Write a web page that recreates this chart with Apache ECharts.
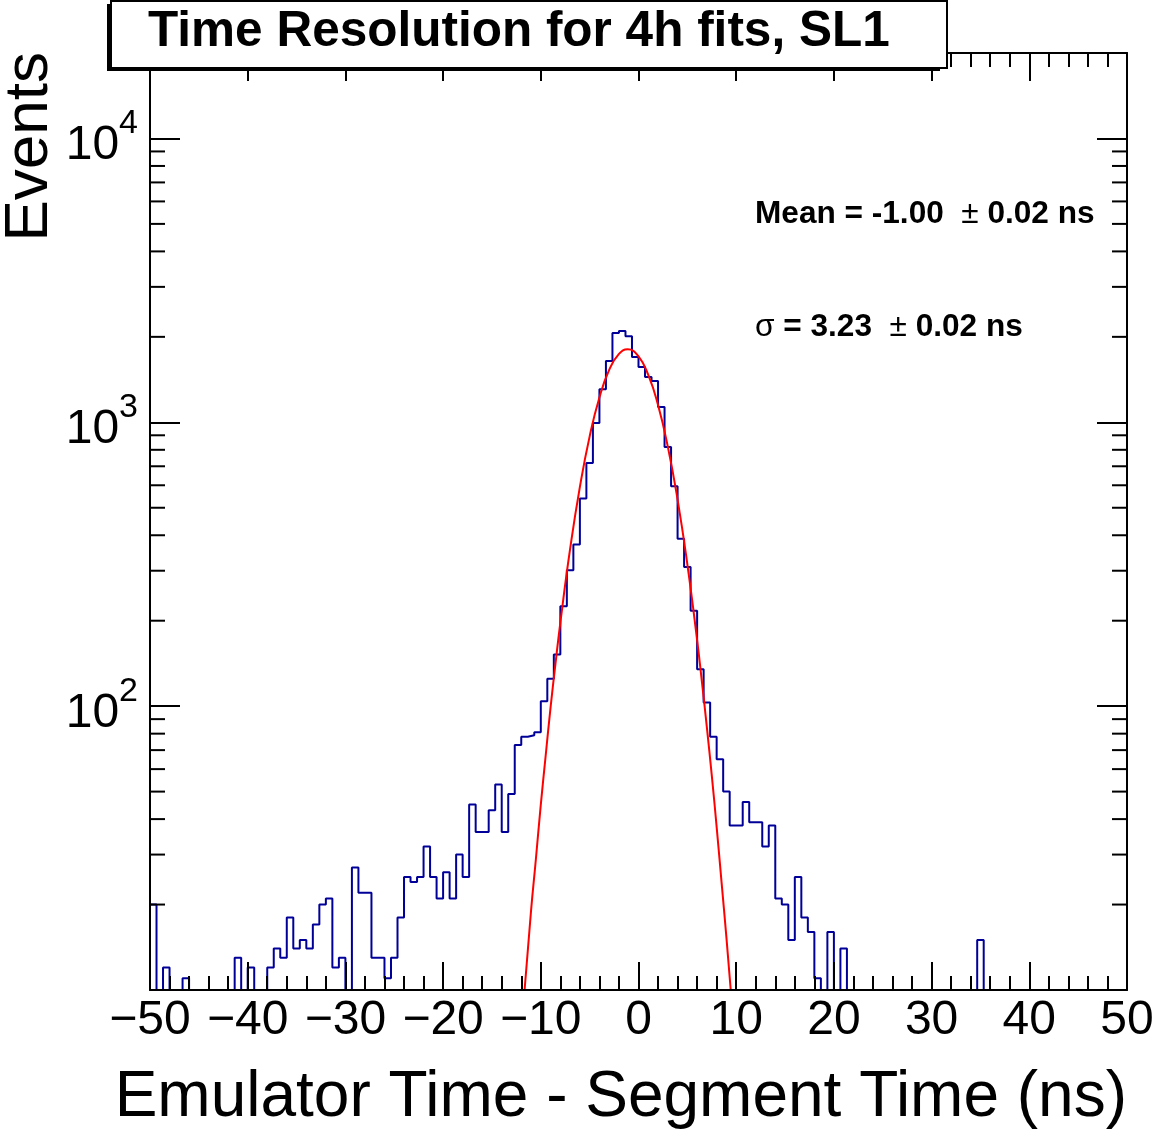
<!DOCTYPE html>
<html>
<head>
<meta charset="utf-8">
<title>Time Resolution for 4h fits, SL1</title>
<script src="https://cdn.jsdelivr.net/npm/echarts@6/dist/echarts.min.js"></script>
<style>
    html, body { margin: 0; padding: 0; background: #fff; }
    #chart { width: 1162px; height: 1140px; }
</style>
</head>
<body>
<div id="chart"></div>
<script>
// 150 bins of 2/3 ns between -50 and 50, counts (0 = under the 10 floor)
var xMin = -50, xMax = 50, xStep = 10;
var yMin = 10, yMax = 20000;
var binCounts = [
    20, 0, 12, 0, 0, 11, 0, 0, 0, 0,
    0, 0, 0, 13, 0, 12, 0, 0, 12, 14,
    13, 18, 14, 15, 14, 17, 20, 21, 12, 13,
    0, 27, 22, 22, 13, 13, 11, 13, 18, 25,
    24, 25, 32, 25, 21, 26, 21, 30, 25, 45,
    36, 36, 43, 53, 36, 49, 73, 78, 79, 81,
    104, 125, 152, 225, 301, 371, 539, 719, 994, 1307,
    1644, 2063, 2097, 2008, 1698, 1565, 1444, 1398, 1132, 819,
    595, 389, 309, 217, 135, 103, 78, 65, 50, 38,
    38, 46, 39, 39, 32, 38, 21, 20, 15, 25,
    18, 16, 11, 0, 16, 0, 14, 0, 0, 0,
    0, 0, 0, 0, 0, 0, 0, 0, 0, 0,
    0, 0, 0, 0, 0, 0, 0, 15, 0, 0,
    0, 0, 0, 0, 0, 0, 0, 0, 0, 0,
    0, 0, 0, 0, 0, 0, 0, 0, 0, 0
];
// gaussian fit curve
var fitX = [-11.66, -11.0, -10.5, -10.0, -9.5, -9.0, -8.5, -8.0, -7.0, -6.0,
    -5.0, -4.0, -3.0, -2.0, -1.11, 0.0, 1.0, 2.0, 3.0, 4.0,
    5.0, 6.0, 6.5, 7.0, 7.5, 8.0, 8.5, 9.0, 9.44];
var fitY = [10, 19, 29, 45, 67, 99, 141, 197, 358, 592,
    892, 1223, 1529, 1741, 1807, 1706, 1468, 1150, 821, 534,
    316, 171, 121, 84, 57, 37.5, 24, 15.3, 10];
var titleText = 'Time Resolution for 4h fits, SL1';
var xTitle = 'Emulator Time - Segment Time (ns)';
var yTitle = 'Events';

var FONT = '"Liberation Sans", Arial, Helvetica, sans-serif';

var binWidth = (xMax - xMin) / binCounts.length;
var histPoints = binCounts.map(function (c, i) {
    return [xMin + i * binWidth, Math.max(c, yMin)];
});
histPoints.push([xMax, Math.max(binCounts[binCounts.length - 1], yMin)]);

var fitPoints = fitX.map(function (x, i) { return [x, fitY[i]]; });

// minor ticks of the log axis: 2..9 x 10^n
var minorY = [];
for (var p = yMin; p < yMax; p *= 10) {
    for (var k = 2; k <= 9; k++) {
        if (k * p < yMax) minorY.push([xMin, k * p]);
    }
}

var black = '#000';
function tickStyle(len) {
    return { show: true, inside: true, length: len, lineStyle: { color: black, width: 2 } };
}

var myChart = echarts.init(document.getElementById('chart'), null, { renderer: 'canvas' });
var option = {
    animation: false,
    backgroundColor: '#fff',
    grid: { left: 150, right: 35, top: 53, bottom: 150, containLabel: false, outerBoundsMode: 'none' },
    xAxis: [{
        type: 'value', min: xMin, max: xMax, interval: xStep, position: 'bottom', z: 5,
        axisLine: { show: true, onZero: false, lineStyle: { color: black, width: 2 } },
        axisTick: tickStyle(28),
        minorTick: { show: true, splitNumber: 5, length: 14, lineStyle: { color: black, width: 2 } },
        splitLine: { show: false },
        axisLabel: {
            show: true, margin: 7, color: black, fontSize: 48, fontFamily: FONT,
            formatter: function (v) { return String(v).replace('-', '\u2212'); }
        }
    }, {
        type: 'value', min: xMin, max: xMax, interval: xStep, position: 'top', z: 5,
        axisLine: { show: true, onZero: false, lineStyle: { color: black, width: 2 } },
        axisTick: tickStyle(28),
        minorTick: { show: true, splitNumber: 5, length: 14, lineStyle: { color: black, width: 2 } },
        splitLine: { show: false },
        axisLabel: { show: false }
    }],
    yAxis: [{
        type: 'log', logBase: 10, min: yMin, max: yMax, position: 'left', z: 5,
        axisLine: { show: true, onZero: false, lineStyle: { color: black, width: 2 } },
        axisTick: tickStyle(30),
        splitLine: { show: false },
        axisLabel: {
            show: true, margin: 12,
            formatter: function (v) {
                var e = Math.round(Math.log(v) / Math.LN10);
                if (Math.abs(Math.pow(10, e) - v) > 1e-6 || e < 2) return '';
                return '{b|10}{s|' + e + '}';
            },
            rich: {
                b: { fontSize: 48, fontFamily: FONT, color: black, verticalAlign: 'bottom' },
                s: { fontSize: 34, fontFamily: FONT, color: black, verticalAlign: 'bottom', padding: [0, 0, 29, 0] }
            }
        }
    }, {
        type: 'log', logBase: 10, min: yMin, max: yMax, position: 'right', z: 5,
        axisLine: { show: true, onZero: false, lineStyle: { color: black, width: 2 } },
        axisTick: tickStyle(30),
        splitLine: { show: false },
        axisLabel: { show: false }
    }],
    series: [{
        name: 'hist', type: 'line', step: 'end', data: histPoints,
        symbol: 'none', clip: true, z: 2,
        lineStyle: { color: '#000099', width: 2 }
    }, {
        name: 'fit', type: 'line', data: fitPoints, smooth: 0.5,
        symbol: 'none', clip: true, z: 3,
        lineStyle: { color: '#ff0000', width: 2 }
    }, {
        name: 'minor', type: 'custom', data: minorY, silent: true, z: 6,
        encode: { x: 0, y: 1 },
        renderItem: function (params, api) {
            var v = api.value(1);
            var l = api.coord([xMin, v]);
            var r = api.coord([xMax, v]);
            return {
                type: 'group',
                children: [
                    { type: 'line', shape: { x1: l[0], y1: l[1], x2: l[0] + 15, y2: l[1] }, style: { stroke: black, lineWidth: 2 } },
                    { type: 'line', shape: { x1: r[0], y1: r[1], x2: r[0] - 15, y2: r[1] }, style: { stroke: black, lineWidth: 2 } }
                ]
            };
        }
    }],
    graphic: [
        { type: 'rect', z: 100, shape: { x: 107, y: 4, width: 833, height: 67 }, style: { fill: black } },
        { type: 'rect', z: 101, shape: { x: 111, y: 1, width: 836, height: 67 }, style: { fill: '#fff', stroke: black, lineWidth: 2 } },
        { type: 'text', z: 102, x: 148, y: 32,
            style: { text: titleText, font: 'bold 49.5px ' + FONT, fill: black, verticalAlign: 'middle', align: 'left' } },
        { type: 'text', z: 102, x: 1127, y: 1098,
            style: { text: xTitle, font: '64px ' + FONT, fill: black, verticalAlign: 'middle', align: 'right' } },
        { type: 'text', z: 102, x: 30, y: 52, rotation: Math.PI / 2,
            style: { text: yTitle, font: '62px ' + FONT, fill: black, verticalAlign: 'middle', align: 'right' } },
        { type: 'text', z: 102, x: 755, y: 214,
            style: {
                text: '{b|Mean = -1.00  }{p|\u00b1}{b| 0.02 ns}', verticalAlign: 'middle', align: 'left',
                rich: {
                    b: { font: 'bold 31.6px ' + FONT, fill: black },
                    p: { font: '31.6px ' + FONT, fill: black }
                }
            } },
        { type: 'text', z: 102, x: 755, y: 327,
            style: {
                text: '{p|\u03c3}{b| = 3.23  }{p|\u00b1}{b| 0.02 ns}', verticalAlign: 'middle', align: 'left',
                rich: {
                    b: { font: 'bold 31.6px ' + FONT, fill: black },
                    p: { font: '31.6px ' + FONT, fill: black }
                }
            } }
    ]
};
myChart.setOption(option);
</script>
</body>
</html>
